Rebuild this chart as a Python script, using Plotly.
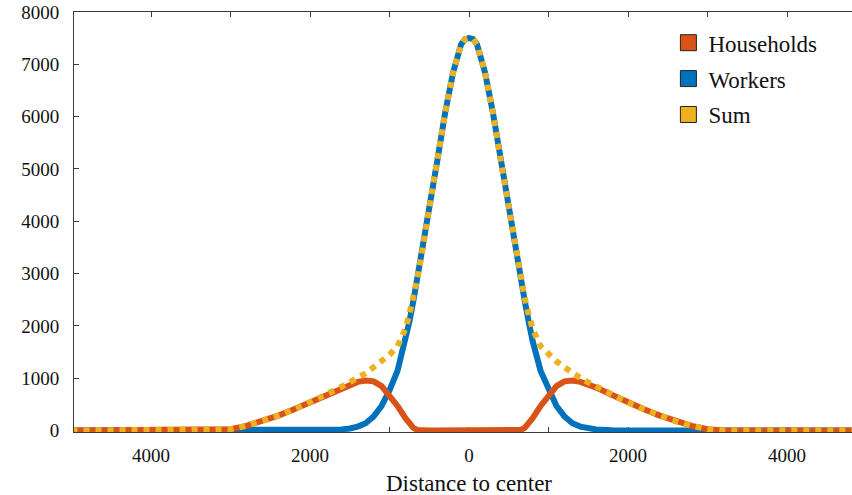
import plotly.graph_objects as go

# Distance from the city center (negative = left of center)
distance = [-5000, -4000, -3200, -3000, -2800, -2600, -2400, -2200, -2000, -1800,
            -1600, -1500, -1400, -1300, -1200, -1100, -1000, -900, -800, -750,
            -700, -650, -600, -500, -400, -300, -200, -100, -50, 0,
            50, 100, 200, 300, 400, 500, 600, 650, 700, 750,
            800, 900, 1000, 1100, 1200, 1300, 1400, 1500, 1600, 1800,
            2000, 2200, 2400, 2600, 2800, 3000, 3200, 4000, 5000]

households = [0, 0, 0, 25, 90, 175, 285, 405, 535, 680,
              820, 880, 930, 955, 940, 850, 680, 470, 235, 140,
              50, 12, 0, 0, 0, 0, 0, 0, 0, 0,
              0, 0, 0, 0, 0, 0, 0, 12, 50, 140,
              235, 470, 680, 850, 940, 955, 930, 880, 820, 680,
              535, 405, 285, 175, 90, 25, 0, 0, 0]

workers = [0, 0, 0, 0, 0, 0, 0, 0, 0, 5,
           20, 40, 75, 140, 270, 470, 770, 1140, 1710, 2080,
           2480, 2900, 3330, 4280, 5150, 6080, 6850, 7380, 7480, 7500,
           7480, 7380, 6850, 6080, 5150, 4280, 3330, 2900, 2480, 2080,
           1710, 1140, 770, 470, 270, 140, 75, 40, 20, 5,
           0, 0, 0, 0, 0, 0, 0, 0, 0]

total = [h + w for h, w in zip(households, workers)]

x_tick_vals = [-4000, -3000, -2000, -1000, 0, 1000, 2000, 3000, 4000]
x_tick_text = ["4000", "", "2000", "", "0", "", "2000", "", "4000"]
y_tick_vals = [0, 1000, 2000, 3000, 4000, 5000, 6000, 7000, 8000]

ORANGE = "#D95319"
BLUE = "#0072BD"
YELLOW = "#EDB120"
AXIS = "#3a3a3a"
FONT = "Liberation Serif"

fig = go.Figure()

# Curves
fig.add_trace(go.Scatter(x=distance, y=workers, mode="lines",
                         line=dict(color=BLUE, width=6), showlegend=False,
                         hoverinfo="skip"))
fig.add_trace(go.Scatter(x=distance, y=households, mode="lines",
                         line=dict(color=ORANGE, width=6), showlegend=False,
                         hoverinfo="skip"))
fig.add_trace(go.Scatter(x=distance, y=total, mode="lines",
                         line=dict(color=YELLOW, width=6, dash="6px,6px"),
                         showlegend=False, hoverinfo="skip"))

# Legend entries drawn as filled squares
for name, color, rank in [("Households", ORANGE, 1), ("Workers", BLUE, 2), ("Sum", YELLOW, 3)]:
    fig.add_trace(go.Scatter(x=[None], y=[None], mode="markers", name=name,
                             legendgroup=name, legendrank=rank,
                             marker=dict(symbol="square", size=16, color=color,
                                         line=dict(color="#222222", width=1))))

fig.add_annotation(text="Distance to center", xref="x", x=0, yref="paper", y=0,
                   yanchor="middle", yshift=-51, showarrow=False,
                   font=dict(family=FONT, size=23, color="#111111"))

fig.update_layout(
    width=852, height=495,
    margin=dict(l=74, r=0, t=12, b=63),
    paper_bgcolor="white", plot_bgcolor="white",
    font=dict(family=FONT, size=19, color="#111111"),
    legend=dict(x=0.764, y=0.978, xanchor="left", yanchor="top",
                bgcolor="rgba(0,0,0,0)", font=dict(family=FONT, size=23),
                tracegroupgap=3, itemsizing="trace"),
)

fig.update_xaxes(range=[-4969, 4817], tickvals=x_tick_vals, ticktext=x_tick_text,
                 ticks="inside", ticklen=5, tickcolor=AXIS, tickwidth=1,
                 showline=True, linecolor=AXIS, linewidth=1, mirror="ticks",
                 showgrid=False, zeroline=False, layer="below traces",
                 ticklabelstandoff=6,
                 tickfont=dict(family=FONT, size=19, color="#111111"))
fig.update_yaxes(range=[-28, 8000], tickvals=y_tick_vals,
                 ticks="inside", ticklen=5, tickcolor=AXIS, tickwidth=1,
                 showline=True, linecolor=AXIS, linewidth=1, mirror=False,
                 showgrid=False, zeroline=False, layer="below traces",
                 ticklabelstandoff=10,
                 tickfont=dict(family=FONT, size=19, color="#111111"))

fig.write_html("out.html")
